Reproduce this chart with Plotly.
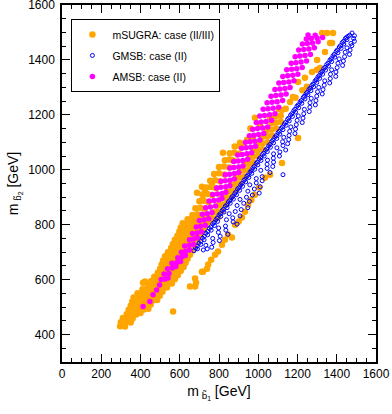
import plotly.graph_objects as go

# ---------------- data (GeV) ----------------
msugra_pts = [
    # lower-left cloud
    (296,430),(318,432),
    (300,445),(325,447),(350,444),
    (310,460),(335,462),(360,458),
    (330,475),(352,477),(378,473),(400,478),
    (340,490),(365,492),(390,488),(418,491),(440,494),
    (350,505),(375,507),(400,503),(425,506),(452,509),
    (358,520),(382,522),(410,518),(436,521),(462,524),(485,526),
    (365,535),(392,537),(420,533),(446,536),(472,539),(498,541),
    (385,550),(410,552),(435,548),(460,551),(486,554),(512,556),
    (410,565),(432,567),(458,563),(484,566),(510,569),(535,571),
    (440,580),(464,582),(490,578),(515,581),(540,584),(560,586),
    (455,595),(478,597),(502,593),(528,596),(552,599),(575,601),
    (470,610),(492,612),(516,608),(540,611),(565,614),(590,616),
    (488,625),(510,627),(535,623),(558,626),(582,629),(605,631),
    (500,640),(524,642),(548,638),(572,641),(596,644),(620,646),
    (508,655),(532,657),(556,653),(580,656),(604,659),(630,661),
    (515,670),(540,672),(565,668),(590,671),(614,674),(640,676),
    (525,685),(550,687),(575,683),(600,686),(625,689),(652,691),
    (540,700),(562,702),(588,698),(612,701),(638,704),(665,706),
    (556,715),(576,717),(600,713),(625,716),(650,719),(675,721),
    (565,730),(588,732),(612,728),(636,731),(660,734),(685,736),
    (575,745),(598,747),(622,743),(648,746),(672,749),(698,751),
    (588,760),(610,762),(635,758),(660,761),(685,764),(710,766),
    (598,775),(622,777),(648,773),(672,776),(698,779),(722,781),
    (605,790),(630,792),(656,788),(684,791),(710,794),(735,796),
    (615,805),(642,807),(668,803),(695,806),(722,809),(748,811),
    (640,820),(662,822),(690,818),(735,821),(760,824),
    # band above the AMSB band
    (665,835),(690,838),(712,833),
    (680,860),(705,862),(728,858),
    (700,885),(722,887),(746,883),
    (715,910),(740,912),(765,908),
    (735,935),(760,937),(785,933),
    (755,960),(780,962),(805,958),
    (775,985),(800,987),(828,983),
    (800,1010),(825,1012),(852,1008),
    (830,1035),(852,1037),(875,1033),
    (855,1060),(878,1062),(900,1058),
    (880,1085),(905,1087),(925,1083),
    # scattered, upper left
    (688,916),(713,938),(729,927),(718,891),(764,945),(820,1062),(866,1036),
    (907,1098),(943,1109),(973,1116),(983,1189),(960,1150),(1121,1218),
    (1060,1190),(1177,1265),(1162,1247),(1010,1160),
    # band between AMSB and GMSB
    (752,820),(778,822),(795,826),
    (772,845),(795,847),(815,850),
    (792,870),(815,872),(838,875),
    (815,895),(838,897),(860,900),
    (840,920),(862,922),(884,925),
    (862,945),(884,947),(906,950),
    (885,970),(906,972),(930,975),
    (908,995),(930,997),(952,1000),
    (930,1020),(952,1022),(975,1025),
    (955,1045),(975,1047),(998,1050),
    (978,1070),(1000,1072),(1022,1075),
    (1000,1095),(1022,1097),(1048,1100),
    (1022,1120),(1045,1122),(1070,1125),
    (1045,1145),(1068,1147),(1092,1150),
    (1068,1170),(1090,1172),(1115,1175),
    (1090,1195),(1115,1197),
    (1105,1220),(1140,1222),
    # sparse, upper part of the middle band
    (1190,1262),(1225,1290),(1203,1320),(1238,1335),(1248,1302),(1274,1356),
    (1299,1364),(1315,1371),(1300,1400),(1340,1429),(1366,1462),(1376,1462),
    (1325,1498),(1350,1498),(1381,1498),
    # lower band, right of GMSB
    (652,575),(678,575),(683,589),(678,604),(713,629),(718,629),(739,640),
    (745,655),(760,672),(780,691),(795,702),(815,727),(830,745),(846,764),
    (866,753),(882,800),(900,812),(917,826),(932,847),(948,873),(965,890),
    (983,909),(1005,935),(1034,971),(1060,982),(1121,1025),(1203,1116),
    # isolated points
    (413,589),(423,593),(566,484),(306,436),(321,429),
]

gmsb_pts = [
    # dense band
    (672,705),(690,712),(689,722),(707,728),(707,740),(724,745),(725,758),(742,763),
    (742,775),(760,780),(759,792),(777,797),(775,808),(793,812),(791,824),(809,830),
    (807,840),(825,846),(823,856),(841,862),(839,872),(857,878),(855,888),(873,893),
    (870,903),(889,909),(885,918),(905,925),(901,934),(920,940),(917,950),(936,956),
    (932,965),(952,972),(947,980),(967,987),(963,996),(982,1002),(979,1012),(998,1018),
    (995,1028),(1014,1034),(1011,1044),(1030,1050),(1027,1060),(1046,1066),(1043,1076),
    (1062,1082),(1059,1092),(1078,1098),(1075,1108),(1094,1114),(1091,1124),(1110,1130),
    (1107,1140),(1126,1146),(1123,1156),(1142,1162),(1139,1172),(1158,1178),(1155,1188),
    (1174,1194),(1171,1204),(1190,1210),(1187,1220),(1206,1226),(1203,1236),(1222,1242),
    (1219,1252),(1238,1258),(1235,1268),(1253,1273),(1249,1282),(1268,1288),(1264,1297),
    (1282,1302),(1279,1312),(1298,1318),(1295,1328),(1313,1333),(1310,1343),(1328,1348),
    (1325,1358),(1343,1363),(1340,1373),(1358,1378),(1355,1388),(1374,1394),(1371,1404),
    (1390,1410),(1387,1420),(1406,1426),(1403,1436),(1422,1442),(1419,1452),(1436,1458),
    (1435,1468),(1452,1474),(1450,1482),(1466,1490),(1478,1498),
    # dense band, middle row
    (681,715),(698,733),(716,751),(733,769),(751,786),(768,803),(784,818),(800,835),
    (816,851),(832,867),(848,883),(864,898),(880,913),(895,930),(911,945),(927,961),
    (942,976),(958,991),(973,1007),(989,1023),(1005,1039),(1021,1055),(1037,1071),
    (1053,1087),(1069,1103),(1085,1119),(1101,1135),(1117,1151),(1133,1167),(1149,1183),
    (1165,1199),(1181,1215),(1197,1231),(1213,1247),(1229,1263),(1244,1277),(1258,1292),
    (1273,1307),(1289,1323),(1304,1338),(1319,1353),(1334,1368),(1349,1383),(1365,1399),
    (1381,1415),(1397,1431),(1413,1447),(1428,1463),(1444,1478),(1458,1486),
    # sparse band to the right
    (720,708),(740,712),(763,718),(733,725),(770,735),(802,742),(768,750),(806,758),
    (845,765),(797,772),(835,780),(798,788),(833,795),(892,802),(872,810),(838,818),
    (870,825),(907,832),(852,840),(883,848),(913,855),(947,862),(892,870),(926,878),
    (955,885),(907,892),(940,900),(970,908),(1005,915),(947,922),(980,930),(1010,938),
    (957,945),(990,952),(1020,960),(990,968),(1020,975),(1126,982),(1060,990),(1013,998),
    (1045,1005),(1074,1012),(1045,1020),(1078,1028),(1047,1035),(1077,1042),(1108,1050),
    (1078,1058),(1110,1065),(1140,1072),(1095,1080),(1126,1088),(1150,1095),(1124,1102),
    (1155,1110),(1130,1118),(1157,1125),(1187,1132),(1160,1140),(1190,1148),(1166,1156),
    (1194,1164),(1224,1172),(1198,1180),(1228,1188),(1204,1196),(1232,1204),(1260,1212),
    (1235,1220),(1263,1228),(1291,1236),(1264,1244),(1294,1252),(1270,1260),(1298,1268),
    (1326,1276),(1302,1284),(1330,1292),(1308,1300),(1336,1308),(1364,1316),(1339,1324),
    (1367,1332),(1395,1340),(1368,1348),(1396,1356),(1374,1364),(1402,1372),(1430,1380),
    (1406,1388),(1434,1396),(1412,1404),(1440,1412),(1465,1420),(1443,1428),(1468,1436),
    (1452,1444),(1477,1452),(1472,1460),(1490,1468),(1486,1478),(1490,1488),
]

amsb_pts = [
    (413,502),(448,520),(464,545),(482,562),(497,580),
    (505,600),(525,602),(540,606),
    (520,620),(545,622),
    (538,640),(562,642),(580,648),
    (560,660),(585,662),(604,666),
    (590,680),(612,683),(628,688),
    (608,700),(630,703),(650,708),
    (625,722),(648,725),(670,728),
    (650,745),(670,748),(690,752),
    (665,768),(688,770),(710,774),
    (684,792),(706,794),(730,798),
    (700,815),(724,818),(748,822),
    (715,838),(740,840),(764,844),
    (732,862),(756,864),(782,868),
    (750,886),(774,888),(798,890),(815,895),
    (768,910),(792,912),(816,914),(835,918),
    (788,934),(810,936),(835,938),(855,942),
    (810,958),(832,960),(856,962),(878,966),
    (832,982),(854,984),(878,986),(900,990),
    (855,1006),(876,1008),(900,1010),(922,1014),
    (875,1030),(898,1032),(922,1034),(946,1038),
    (895,1054),(918,1056),(942,1058),(966,1062),
    (915,1078),(938,1080),(962,1082),(986,1086),
    (935,1100),(958,1102),(982,1104),(1008,1108),
    (955,1124),(978,1126),(1002,1128),(1028,1132),
    (972,1148),(996,1150),(1022,1152),(1048,1156),
    (990,1172),(1015,1174),(1040,1176),(1068,1180),
    (1008,1196),(1032,1198),(1058,1200),(1085,1204),
    (1025,1220),(1050,1222),(1076,1224),(1104,1228),
    (1045,1244),(1070,1246),(1096,1248),(1124,1252),
    (1065,1268),(1090,1270),(1116,1272),(1142,1276),
    (1085,1292),(1110,1294),(1136,1296),(1162,1300),
    (1105,1316),(1130,1318),(1156,1320),(1182,1324),
    (1125,1340),(1150,1342),(1176,1344),(1202,1348),
    (1145,1364),(1170,1366),(1196,1368),(1224,1372),
    (1168,1388),(1192,1390),(1218,1392),(1246,1396),
    (1188,1412),(1212,1414),(1238,1416),(1266,1420),
    (1206,1436),(1232,1438),(1258,1440),(1286,1444),
    (1225,1458),(1250,1460),(1276,1462),(1305,1466),
    (1245,1476),(1270,1478),(1300,1480),(1328,1482),
    (1254,1491),(1290,1490),
]

series_names = ["mSUGRA: case (II/III)", "GMSB: case (II)", "AMSB: case (II)"]
x_ticks = [0, 200, 400, 600, 800, 1000, 1200, 1400, 1600]
y_ticks = [400, 600, 800, 1000, 1200, 1400, 1600]

def split(pts):
    return [p[0] for p in pts], [p[1] for p in pts]

FONT = "Liberation Sans, Arial, Helvetica, sans-serif"

fig = go.Figure()
mx, my = split(msugra_pts)
gx, gy = split(gmsb_pts)
ax, ay = split(amsb_pts)

fig.add_trace(go.Scatter(x=mx, y=my, mode="markers", name=series_names[0],
                         legendgroup="a",
                         marker=dict(symbol="circle", size=6.5, color="#ffa500",
                                     line=dict(width=0))))
fig.add_trace(go.Scatter(x=gx, y=gy, mode="markers", name=series_names[1],
                         legendgroup="b",
                         marker=dict(symbol="circle-open", size=4, color="#0000ff",
                                     line=dict(width=1, color="#0000ff"))))
fig.add_trace(go.Scatter(x=ax, y=ay, mode="markers", name=series_names[2],
                         legendgroup="c",
                         marker=dict(symbol="circle", size=5.5, color="#ff00ff",
                                     line=dict(width=0))))

axis_common = dict(
    showline=True, linecolor="black", linewidth=1.5, mirror="allticks",
    ticks="inside", ticklen=8, tickwidth=1, tickcolor="black",
    showgrid=False, zeroline=False, automargin=False, ticklabeloverflow="allow",
    tickfont=dict(family=FONT, size=12, color="black"),
    minor=dict(ticks="inside", ticklen=4, tickwidth=1, tickcolor="black", dtick=50,
               showgrid=False),
)

fig.update_xaxes(range=[0, 1600], tickvals=x_ticks, ticklabelstandoff=0,
                 title=dict(text="m<sub> b̃<sub>1</sub></sub> [GeV]",
                            font=dict(family=FONT, size=14, color="black"), standoff=6),
                 **axis_common)
fig.update_yaxes(range=[300, 1600], tickvals=y_ticks, ticklabelstandoff=3,
                 title=dict(text="m<sub> b̃<sub>2</sub></sub> [GeV]",
                            font=dict(family=FONT, size=14, color="black"), standoff=6),
                 **axis_common)

fig.update_layout(
    width=392, height=414,
    margin=dict(l=62, r=16, t=5, b=52),
    paper_bgcolor="white", plot_bgcolor="white",
    font=dict(family=FONT, size=12, color="black"),
    legend=dict(x=0.03, y=0.961, xanchor="left", yanchor="top",
                bgcolor="white", bordercolor="black", borderwidth=1,
                font=dict(family=FONT, size=10.5, color="black"),
                itemsizing="trace", tracegroupgap=2),
)

fig.write_html("out.html", config={"displayModeBar": False},
               post_script="document.body.style.margin='0px';document.body.style.overflow='hidden';")
